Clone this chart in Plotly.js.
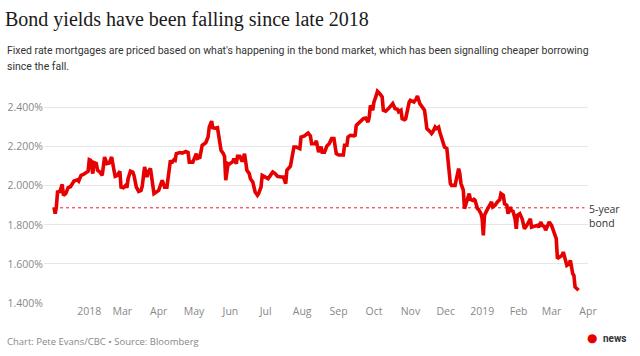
<!DOCTYPE html>
<html>
<head>
<meta charset="utf-8">
<script src="https://cdn.plot.ly/plotly-3.0.1.min.js"></script>
<style>
  html, body { margin: 0; padding: 0; background: #ffffff; }
  #chart { width: 640px; height: 356px; }
</style>
</head>
<body>
<div id="chart"></div>
<script>
// ---- Data ----
const dates = [
'2018-01-02','2018-01-03','2018-01-04','2018-01-05','2018-01-07','2018-01-09','2018-01-10','2018-01-12','2018-01-14','2018-01-16',
'2018-01-19','2018-01-22','2018-01-23','2018-01-25','2018-01-27','2018-01-29','2018-01-31','2018-02-01','2018-02-02','2018-02-04',
'2018-02-05','2018-02-07','2018-02-08','2018-02-10','2018-02-12','2018-02-14','2018-02-16','2018-02-18','2018-02-20','2018-02-22',
'2018-02-23','2018-02-25','2018-02-27','2018-02-28','2018-03-02','2018-03-04','2018-03-05','2018-03-06','2018-03-08','2018-03-10',
'2018-03-11','2018-03-13','2018-03-15','2018-03-17','2018-03-18','2018-03-20','2018-03-22','2018-03-23','2018-03-25','2018-03-27',
'2018-03-28','2018-03-30','2018-04-01','2018-04-04','2018-04-05','2018-04-06','2018-04-08','2018-04-11','2018-04-12','2018-04-14',
'2018-04-15','2018-04-16','2018-04-19','2018-04-21','2018-04-24','2018-04-26','2018-04-27','2018-04-30','2018-05-03','2018-05-04',
'2018-05-06','2018-05-08','2018-05-11','2018-05-13','2018-05-14','2018-05-16','2018-05-17','2018-05-19','2018-05-21','2018-05-24',
'2018-05-26','2018-05-27','2018-05-28','2018-05-30','2018-05-31','2018-06-03','2018-06-04','2018-06-06','2018-06-07','2018-06-09',
'2018-06-11','2018-06-13','2018-06-15','2018-06-17','2018-06-18','2018-06-20','2018-06-22','2018-06-24','2018-06-25','2018-06-27',
'2018-06-28','2018-07-01','2018-07-03','2018-07-05','2018-07-07','2018-07-09','2018-07-11','2018-07-14','2018-07-16','2018-07-18',
'2018-07-19','2018-07-22','2018-07-23','2018-07-25','2018-07-27','2018-07-30','2018-07-31','2018-08-03','2018-08-06','2018-08-08',
'2018-08-09','2018-08-12','2018-08-13','2018-08-15','2018-08-17','2018-08-18','2018-08-20','2018-08-22','2018-08-24','2018-08-26',
'2018-08-28','2018-08-30','2018-09-01','2018-09-05','2018-09-06','2018-09-08','2018-09-09','2018-09-11','2018-09-14','2018-09-15',
'2018-09-16','2018-09-19','2018-09-22','2018-09-24','2018-09-26','2018-09-27','2018-09-28','2018-09-30','2018-10-01','2018-10-03',
'2018-10-04','2018-10-06','2018-10-08','2018-10-09','2018-10-11','2018-10-13','2018-10-15','2018-10-17','2018-10-19','2018-10-21',
'2018-10-22','2018-10-24','2018-10-25','2018-10-27','2018-10-28','2018-10-30','2018-10-31','2018-11-01','2018-11-04','2018-11-06',
'2018-11-07','2018-11-09','2018-11-11','2018-11-13','2018-11-14','2018-11-15','2018-11-18','2018-11-19','2018-11-20','2018-11-22',
'2018-11-23','2018-11-25','2018-11-26','2018-11-28','2018-11-30','2018-12-02','2018-12-03','2018-12-05','2018-12-06','2018-12-09',
'2018-12-12','2018-12-13','2018-12-14','2018-12-16','2018-12-17','2018-12-19','2018-12-21','2018-12-22','2018-12-24','2018-12-25',
'2018-12-26','2018-12-28','2018-12-29','2018-12-31','2019-01-01','2019-01-02','2019-01-03','2019-01-05','2019-01-07','2019-01-09',
'2019-01-10','2019-01-12','2019-01-14','2019-01-16','2019-01-17','2019-01-19','2019-01-20','2019-01-22','2019-01-23','2019-01-25',
'2019-01-26','2019-01-27','2019-01-29','2019-01-30','2019-01-31','2019-02-02','2019-02-04','2019-02-06','2019-02-08','2019-02-09',
'2019-02-11','2019-02-12','2019-02-15','2019-02-17','2019-02-18','2019-02-20','2019-02-21','2019-02-23','2019-02-24','2019-02-26',
'2019-02-27','2019-03-01','2019-03-03','2019-03-05','2019-03-06','2019-03-08','2019-03-10','2019-03-11','2019-03-12','2019-03-14',
'2019-03-16','2019-03-17','2019-03-19','2019-03-20','2019-03-21','2019-03-23','2019-03-24'
];

const yields = [
1.890,1.857,1.890,1.968,1.970,2.007,1.951,1.960,1.990,1.995,
2.024,2.030,2.024,2.053,2.058,2.069,2.074,2.133,2.130,2.062,
2.118,2.113,2.079,2.070,2.053,2.147,2.113,2.116,2.147,2.079,
2.048,2.053,2.074,1.993,1.990,2.002,1.990,2.036,2.075,2.070,
2.053,1.993,1.971,1.976,1.997,2.096,2.044,2.070,2.088,2.002,
1.960,1.968,1.976,2.028,2.011,1.993,1.993,2.130,2.116,2.133,
2.130,2.164,2.170,2.167,2.175,2.170,2.121,2.121,2.164,2.140,
2.145,2.207,2.220,2.249,2.300,2.331,2.297,2.294,2.297,2.181,
2.164,2.150,2.028,2.113,2.110,2.123,2.139,2.113,2.150,2.150,
2.124,2.164,2.079,2.062,2.036,2.019,1.968,1.951,1.960,1.993,
2.053,2.045,2.036,2.053,2.070,2.062,2.048,2.045,2.045,2.011,
2.079,2.100,2.130,2.198,2.198,2.190,2.249,2.255,2.270,2.255,
2.215,2.215,2.230,2.172,2.200,2.172,2.172,2.203,2.215,2.241,
2.241,2.164,2.157,2.157,2.207,2.207,2.249,2.258,2.255,2.258,
2.309,2.326,2.343,2.346,2.326,2.351,2.411,2.386,2.428,2.462,
2.483,2.471,2.454,2.386,2.381,2.392,2.403,2.420,2.394,2.391,
2.378,2.386,2.343,2.338,2.343,2.411,2.428,2.437,2.428,2.445,
2.459,2.420,2.403,2.386,2.343,2.292,2.275,2.267,2.275,2.300,
2.292,2.300,2.275,2.232,2.198,2.190,2.139,2.011,2.002,2.002,
2.088,2.062,2.011,1.977,1.883,1.925,1.960,1.930,1.925,1.930,
1.925,1.883,1.879,1.857,1.832,1.746,1.849,1.874,1.900,1.917,
1.891,1.900,1.917,1.929,1.960,1.951,1.908,1.900,1.857,1.891,
1.866,1.874,1.831,1.780,1.849,1.857,1.831,1.780,1.797,1.806,
1.831,1.788,1.791,1.797,1.788,1.814,1.797,1.791,1.772,1.806,
1.814,1.797,1.763,1.729,1.627,1.635,1.644,1.661,1.635,1.593,
1.601,1.618,1.550,1.541,1.482,1.474,1.465
];

// Reference level: "5-year bond" dotted line
const refLabel = '5-year<br>bond';
const refLevel = 1.887;
const refDates = ['2018-01-02', '2019-03-29'];

// Axis ticks
const xTickVals = ['2018-02-01','2018-03-01','2018-04-01','2018-05-01','2018-06-01','2018-07-01','2018-08-01',
                   '2018-09-01','2018-10-01','2018-11-01','2018-12-01','2019-01-01','2019-02-01','2019-03-01','2019-04-01'];
const xTickText = ['2018','Mar','Apr','May','Jun','Jul','Aug','Sep','Oct','Nov','Dec','2019','Feb','Mar','Apr'];
const yTickVals = [1.4, 1.6, 1.8, 2.0, 2.2, 2.4];
const yTickText = ['1.400%','1.600%','1.800%','2.000%','2.200%','2.400%'];

const titleText = 'Bond yields have been falling since late 2018';
const subtitleLine1 = "Fixed rate mortgages are priced based on what's happening in the bond market, which has been signalling cheaper borrowing";
const subtitleLine2 = 'since the fall.';
const footerText = 'Chart: Pete Evans/CBC • Source: Bloomberg';
const logoText = '<b>news</b>';

// ---- Chart ----
const sansFont = 'Open Sans, Noto Sans, sans-serif';
const subFont = 'Roboto, Open Sans, sans-serif';

const traces = [
  {
    x: refDates.slice(), y: refDates.map(() => refLevel),
    type: 'scatter', mode: 'lines',
    line: { color: '#e8202a', width: 1, dash: 'dot' },
    hoverinfo: 'skip', showlegend: false
  },
  {
    x: dates, y: yields,
    type: 'scatter', mode: 'lines',
    line: { color: '#e60000', width: 3.6 },
    hoverinfo: 'skip', showlegend: false
  }
];

const layout = {
  width: 640, height: 356,
  margin: { l: 44, r: 52, t: 88, b: 53, pad: 0 },
  paper_bgcolor: '#ffffff', plot_bgcolor: '#ffffff',
  showlegend: false,
  title: {
    text: titleText,
    font: { family: 'Liberation Serif, DejaVu Serif, serif', size: 20, color: '#1a1a1a' },
    x: 5 / 640, xref: 'container', xanchor: 'left',
    y: 1 - 19 / 356, yref: 'container', yanchor: 'middle'
  },
  xaxis: {
    type: 'date',
    range: ['2017-12-24 12:00', '2019-04-01'],
    tickmode: 'array', tickvals: xTickVals, ticktext: xTickText,
    showgrid: false, zeroline: false, showline: false, ticks: '',
    tickfont: { family: sansFont, size: 10.5, color: '#888888' },
    fixedrange: true
  },
  yaxis: {
    range: [1.4, 2.5],
    tickmode: 'array', tickvals: yTickVals, ticktext: yTickText,
    showgrid: true, gridcolor: '#e6e6e6', gridwidth: 1,
    zeroline: false, showline: false, ticks: '',
    tickfont: { family: sansFont, size: 10.5, color: '#888888' },
    fixedrange: true
  },
  annotations: [
    {
      text: subtitleLine1, xref: 'paper', yref: 'paper',
      x: -39 / 544, y: (302.7 - 50) / 215.1, xanchor: 'left', yanchor: 'middle',
      showarrow: false, align: 'left',
      font: { family: subFont, size: 10.5, color: '#333333' }
    },
    {
      text: subtitleLine2, xref: 'paper', yref: 'paper',
      x: -39 / 544, y: (302.7 - 66) / 215.1, xanchor: 'left', yanchor: 'middle',
      showarrow: false, align: 'left',
      font: { family: subFont, size: 10.5, color: '#333333' }
    },
    {
      text: footerText, xref: 'paper', yref: 'paper',
      x: -39 / 544, y: (302.7 - 341) / 215.1, xanchor: 'left', yanchor: 'middle',
      showarrow: false, align: 'left',
      font: { family: sansFont, size: 9.5, color: '#888888' }
    },
    {
      text: refLabel, xref: 'paper', yref: 'y',
      x: 1, y: refLevel, xanchor: 'left', yanchor: 'middle', yshift: -8, xshift: -1,
      showarrow: false, align: 'left',
      font: { family: sansFont, size: 10.5, color: '#333333' }
    },
    {
      text: logoText, xref: 'paper', yref: 'paper',
      x: (629 - 44) / 544, y: (302.7 - 338) / 215.1, xanchor: 'right', yanchor: 'middle',
      showarrow: false, align: 'right',
      font: { family: 'Roboto, sans-serif', size: 10, color: '#333333' }
    },
    {
      text: '●', xref: 'paper', yref: 'paper',
      x: (599 - 44) / 544, y: (302.7 - 338) / 215.1, xanchor: 'right', yanchor: 'middle',
      showarrow: false,
      font: { family: 'DejaVu Sans, sans-serif', size: 12, color: '#e60000' }
    }
  ]
};

Plotly.newPlot('chart', traces, layout, { displayModeBar: false, staticPlot: true });
</script>
</body>
</html>
